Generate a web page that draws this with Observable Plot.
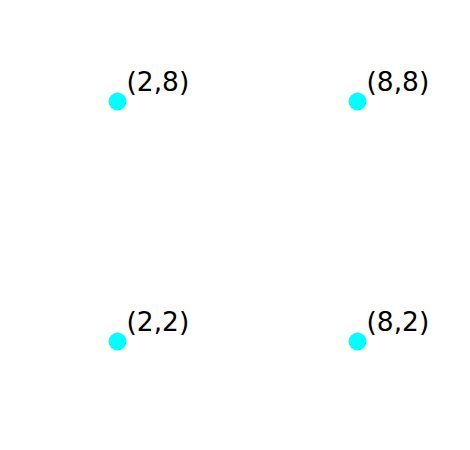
<!DOCTYPE html>
<html><head><meta charset="utf-8">
<script src="https://cdn.jsdelivr.net/npm/d3@7"></script>
<script src="https://cdn.jsdelivr.net/npm/@observablehq/plot@0.6"></script>
<style>body{margin:0;background:#fff}</style>
</head><body><div id="chart"></div>
<script>
const xs = [2, 2, 8, 8];
const ys = [8, 2, 8, 2];
const labels = ["(2,8)", "(2,2)", "(8,8)", "(8,2)"];
const data = xs.map((x, i) => ({x, y: ys[i], label: labels[i]}));
const chart = Plot.plot({
  width: 470, height: 450,
  marginLeft: 37, marginRight: 33, marginTop: 21, marginBottom: 29,
  x: {domain: [0, 10], axis: null},
  y: {domain: [0, 10], axis: null},
  style: {fontFamily: "DejaVu Sans", background: "#fff"},
  marks: [
    Plot.dot(data, {x: "x", y: "y", r: 9, fill: "#00ffff", stroke: "none"}),
    Plot.text(data, {x: "x", y: "y", text: "label", textAnchor: "start", lineAnchor: "bottom", dx: 9, dy: -11, fontSize: 26.5, fill: "#000"})
  ]
});
document.getElementById("chart").append(chart);
</script></body></html>
